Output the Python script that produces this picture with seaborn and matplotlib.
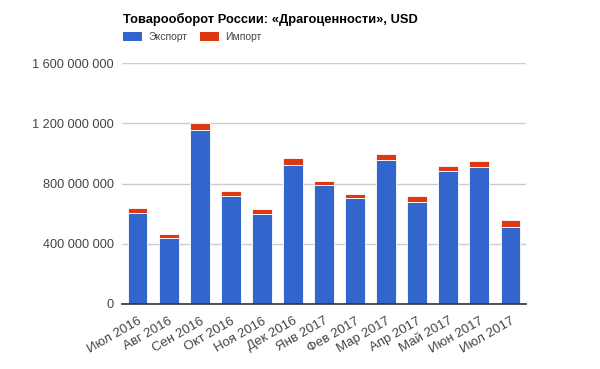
import matplotlib
matplotlib.use("Agg")
import matplotlib.pyplot as plt
import seaborn as sns
import pandas as pd
from matplotlib.patches import Rectangle

months = ["Июл 2016", "Авг 2016", "Сен 2016", "Окт 2016", "Ноя 2016", "Дек 2016",
          "Янв 2017", "Фев 2017", "Мар 2017", "Апр 2017", "Май 2017", "Июн 2017", "Июл 2017"]
export_vals = [605e6, 440e6, 1157e6, 715e6, 596e6, 923e6, 792e6, 702e6, 954e6, 675e6, 885e6, 910e6, 513e6]
import_vals = [30e6, 25e6, 45e6, 33e6, 33e6, 44e6, 25e6, 30e6, 42e6, 40e6, 31e6, 40e6, 45e6]
yticks = [0, 400e6, 800e6, 1200e6, 1600e6]
ytick_labels = ["0", "400 000 000", "800 000 000", "1 200 000 000", "1 600 000 000"]

title = "Товарооборот России: «Драгоценности», USD"
legend_labels = ["Экспорт", "Импорт"]
colors = ["#3366CC", "#DC3912"]

df = pd.DataFrame({"month": months, "export": export_vals, "import": import_vals})

sns.set_theme(style="white")
plt.rcParams["font.family"] = ["Liberation Sans", "DejaVu Sans"]

fig = plt.figure(figsize=(6, 3.69), dpi=100)
ax = fig.add_axes([122/600, 1-304/369, (526-122)/600, (304-63)/369])

sns.barplot(data=df, x="month", y="export", color=colors[0], saturation=1,
            width=0.64, ax=ax, edgecolor="white", linewidth=0.6, zorder=3)
sns.barplot(data=df, x="month", y="import", bottom=df["export"], color=colors[1], saturation=1,
            width=0.64, ax=ax, edgecolor="white", linewidth=0.6, zorder=3)

ax.set_ylim(0, 1.6e9)
ax.set_xlim(-0.5, len(months) - 0.5)
ax.set_yticks(yticks)
ax.set_yticklabels(ytick_labels, fontsize=9.2, color="#444444")
ax.set_xticks(range(len(months)))
ax.set_xticklabels(months, rotation=30, ha="right", rotation_mode="anchor",
                   fontsize=9.5, color="#444444")
ax.tick_params(axis="both", length=0, pad=6)
ax.tick_params(axis="x", pad=8)
ax.set_xlabel("")
ax.set_ylabel("")
for s in ["top", "right", "left"]:
    ax.spines[s].set_visible(False)
ax.spines["bottom"].set_color("#333333")
ax.spines["bottom"].set_linewidth(1.2)
ax.spines["bottom"].set_zorder(5)
ax.yaxis.grid(True, color="#cccccc", linewidth=1)
ax.set_axisbelow(True)

fig.text(123/600, 1-19/369, title, fontsize=9.3, fontweight="bold", color="#000000",
         va="center", ha="left")
# legend
for lab, c, x0 in zip(legend_labels, colors, [123, 200]):
    fig.patches.append(Rectangle((x0/600, 1-41/369), 19/600, 9/369, transform=fig.transFigure,
                                 facecolor=c, edgecolor="none"))
    fig.text((x0+25)/600, 1-36.5/369, lab, fontsize=7.5, color="#444444", va="center", ha="left")

fig.savefig("out.png", dpi=100)
